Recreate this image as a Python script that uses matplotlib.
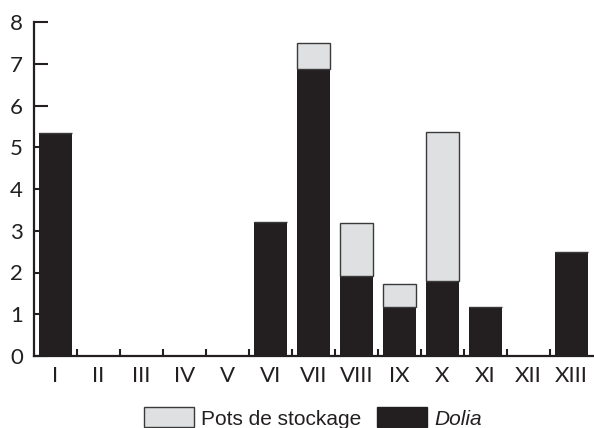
import matplotlib
matplotlib.use("Agg")
import matplotlib.pyplot as plt
from matplotlib.patches import Patch

# Data
periods = ["I", "II", "III", "IV", "V", "VI", "VII", "VIII", "IX", "X", "XI", "XII", "XIII"]
dolia = [5.35, 0, 0, 0, 0, 3.2, 6.87, 1.92, 1.17, 1.8, 1.17, 0, 2.49]
pots = [0, 0, 0, 0, 0, 0, 0.63, 1.27, 0.55, 3.57, 0, 0, 0]

dark = "#231f20"
light = "#dfe0e2"

plt.rcParams["font.family"] = ["Lato", "DejaVu Sans"]

fig = plt.figure(figsize=(5.94, 4.28), dpi=100)
ax = fig.add_axes([34 / 594, 72 / 428, 559 / 594, 334 / 428])

x = list(range(len(periods)))
ax.bar(x, dolia, width=0.75, color=dark, edgecolor="none")
ax.bar(x, pots, width=0.75, bottom=dolia, color=light, edgecolor="#3a3a3a", linewidth=1)

ax.set_xlim(-0.5, len(periods) - 0.5)
ax.set_ylim(0, 8)
ax.set_yticks(range(9))
ax.set_xticks(x)
ax.set_xticklabels(periods)
ax.set_xticks([i + 0.5 for i in range(len(periods) - 1)], minor=True)

for side in ["top", "right"]:
    ax.spines[side].set_visible(False)
for side in ["left", "bottom"]:
    ax.spines[side].set_linewidth(1.6)
    ax.spines[side].set_color(dark)

ax.tick_params(axis="y", direction="in", length=10, width=1.5, color=dark,
               labelsize=16, labelcolor=dark, pad=8)
ax.tick_params(axis="x", which="major", length=0, labelsize=16, labelcolor=dark, pad=7)
ax.tick_params(axis="x", which="minor", direction="in", length=5, width=1.5, color=dark)

handles = [Patch(facecolor=light, edgecolor="#3a3a3a", linewidth=1),
           Patch(facecolor=dark, edgecolor=dark)]
leg = ax.legend(handles, ["Pots de stockage", "Dolia"], loc="center",
                bbox_to_anchor=(0.527, 10 / 428), bbox_transform=fig.transFigure,
                ncol=2, frameon=False, prop={"family": "Liberation Sans", "size": 15},
                handlelength=2.4, handleheight=1.1, handletextpad=0.35,
                columnspacing=0.75, borderpad=0)
leg.get_texts()[1].set_style("italic")
for t in leg.get_texts():
    t.set_color(dark)

fig.savefig("out.png", dpi=100)
